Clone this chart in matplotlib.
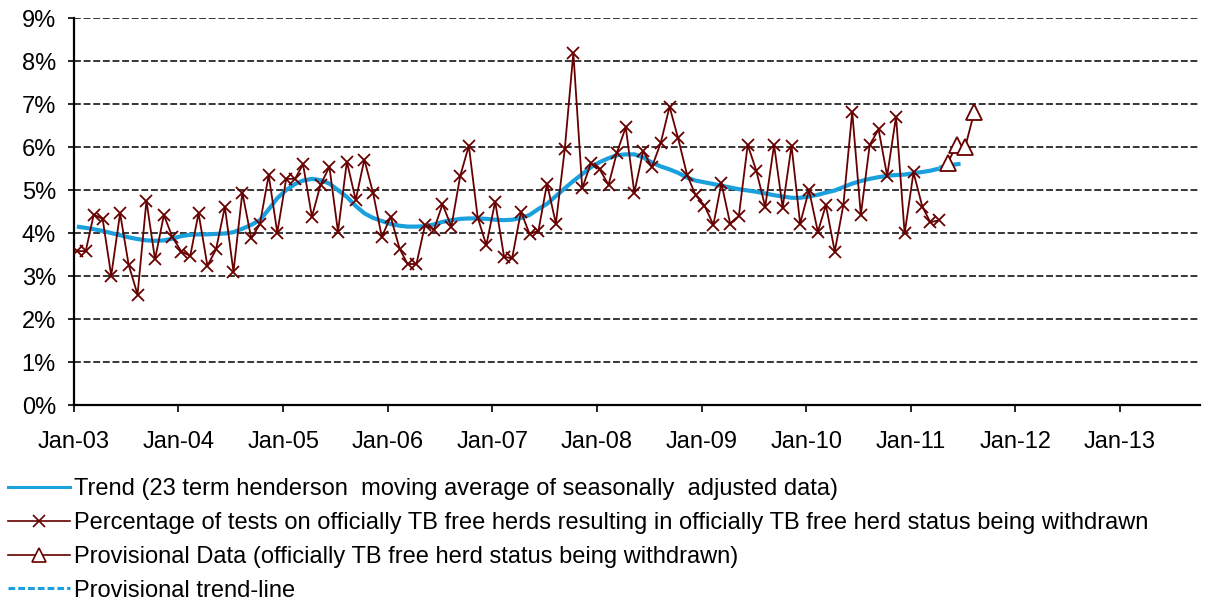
import datetime as dt
import matplotlib
matplotlib.use("Agg")
import matplotlib.pyplot as plt
import matplotlib.dates as mdates
from matplotlib.lines import Line2D
from matplotlib.ticker import FuncFormatter

plt.rcParams['font.family'] = ['Liberation Sans', 'DejaVu Sans']

# monthly values from Jan-03 to Apr-11 (percent)
pct_withdrawn = [
    3.58, 3.58, 4.43, 4.33, 3.01, 4.46, 3.26, 2.57, 4.75, 3.39, 4.42, 3.90,
    3.57, 3.47, 4.46, 3.24, 3.62, 4.61, 3.10, 4.94, 3.88, 4.20, 5.35, 4.01,
    5.26, 5.26, 5.60, 4.38, 5.12, 5.54, 4.03, 5.66, 4.77, 5.71, 4.92, 3.91,
    4.38, 3.64, 3.28, 3.28, 4.19, 4.08, 4.67, 4.15, 5.33, 6.03, 4.36, 3.72,
    4.73, 3.45, 3.41, 4.50, 3.98, 4.05, 5.15, 4.22, 5.95, 8.19, 5.04, 5.62,
    5.48, 5.12, 5.87, 6.46, 4.94, 5.91, 5.53, 6.09, 6.94, 6.20, 5.36, 4.88,
    4.64, 4.19, 5.16, 4.21, 4.40, 6.05, 5.45, 4.61, 6.05, 4.59, 6.03, 4.22,
    5.00, 4.03, 4.65, 3.57, 4.65, 6.82, 4.42, 6.05, 6.41, 5.33, 6.71, 3.99,
    5.41, 4.61, 4.25, 4.30,
]

trend = [
    4.15, 4.12, 4.09, 4.05, 4.00, 3.95, 3.90, 3.86, 3.83, 3.82, 3.83, 3.87,
    3.93, 3.96, 3.97, 3.97, 3.98, 3.99, 4.02, 4.10, 4.19, 4.30, 4.55, 4.81,
    5.00, 5.14, 5.22, 5.26, 5.23, 5.15, 5.00, 4.84, 4.63, 4.46, 4.35, 4.28,
    4.21, 4.17, 4.15, 4.15, 4.16, 4.20, 4.26, 4.30, 4.33, 4.34, 4.34, 4.33,
    4.31, 4.30, 4.31, 4.35, 4.42, 4.56, 4.68, 4.86, 5.04, 5.21, 5.37, 5.53,
    5.65, 5.74, 5.81, 5.83, 5.83, 5.76, 5.64, 5.55, 5.48, 5.40, 5.29, 5.22,
    5.18, 5.14, 5.10, 5.06, 5.02, 4.99, 4.96, 4.92, 4.88, 4.85, 4.82, 4.82,
    4.85, 4.89, 4.94, 4.99, 5.07, 5.15, 5.21, 5.26, 5.30, 5.33, 5.35, 5.36,
    5.39, 5.42, 5.45, 5.50,
]

# May-11 to Aug-11
provisional = [5.64, 6.05, 6.01, 6.81]
# Apr-11 to Jul-11
provisional_trend = [5.52, 5.57, 5.60, 5.62]


def month_date(i):
    return dt.datetime(2003 + i // 12, i % 12 + 1, 11)


dates = [month_date(i) for i in range(len(pct_withdrawn))]
prov_dates = [month_date(100 + i) for i in range(len(provisional))]
prov_trend_dates = [month_date(99 + i) for i in range(len(provisional_trend))]

maroon = '#680000'
blue = '#1aa0dc'

fig = plt.figure(figsize=(12.07, 6.01), dpi=100)
ax = fig.add_axes([0.0613, 0.326, 0.933, 0.644])

ax.set_ylim(0, 9)
ax.set_xlim(dt.datetime(2003, 1, 1), dt.datetime(2013, 10, 8))

for v in range(1, 10):
    ax.axhline(v, color='black', lw=1.1, dashes=(4.5, 1.8), zorder=1)

ax.plot(dates, trend, color=blue, lw=3, zorder=2, solid_capstyle='butt')
ax.plot(prov_trend_dates, provisional_trend, color=blue, lw=3,
        dashes=(2, 1.2), zorder=2)
ax.plot(dates, pct_withdrawn, color=maroon, lw=1.3, marker='x',
        markersize=9, markeredgewidth=1.3, zorder=3)
ax.plot(prov_dates, provisional, color=maroon, lw=1.3, marker='^',
        markersize=11, markerfacecolor='white', markeredgewidth=1.3,
        markeredgecolor=maroon, zorder=3)

ax.set_yticks(range(0, 10))
ax.yaxis.set_major_formatter(FuncFormatter(lambda v, p: f"{int(v)}%"))
ax.xaxis.set_major_locator(mdates.YearLocator())
ax.xaxis.set_major_formatter(mdates.DateFormatter('%b-%y'))

for s in ['top', 'right']:
    ax.spines[s].set_visible(False)
for s in ['left', 'bottom']:
    ax.spines[s].set_linewidth(1.6)
    ax.spines[s].set_color('black')

ax.tick_params(axis='x', length=5, width=1.2, pad=14, labelsize=17)
ax.tick_params(axis='y', length=4, width=1.2, pad=9, labelsize=17)

handles = [
    Line2D([], [], color=blue, lw=2.2),
    Line2D([], [], color=maroon, lw=1.2, marker='x', markersize=8,
           markeredgewidth=1.2),
    Line2D([], [], color=maroon, lw=1.2, marker='^', markersize=10,
           markerfacecolor='white', markeredgecolor=maroon,
           markeredgewidth=1.2),
    Line2D([], [], color=blue, lw=2.2, dashes=(2.2, 1)),
]
labels = [
    'Trend (23 term henderson  moving average of seasonally  adjusted data)',
    'Percentage of tests on officially TB free herds resulting in officially TB free herd status being withdrawn',
    'Provisional Data (officially TB free herd status being withdrawn)',
    'Provisional trend-line',
]
fig.legend(handles, labels, loc='upper left', bbox_to_anchor=(0.0, 0.218),
           frameon=False, fontsize=17, handlelength=2.6, handletextpad=0.2,
           labelspacing=0.5, borderpad=0.2, borderaxespad=0.15)

fig.savefig('out.png', dpi=100)
